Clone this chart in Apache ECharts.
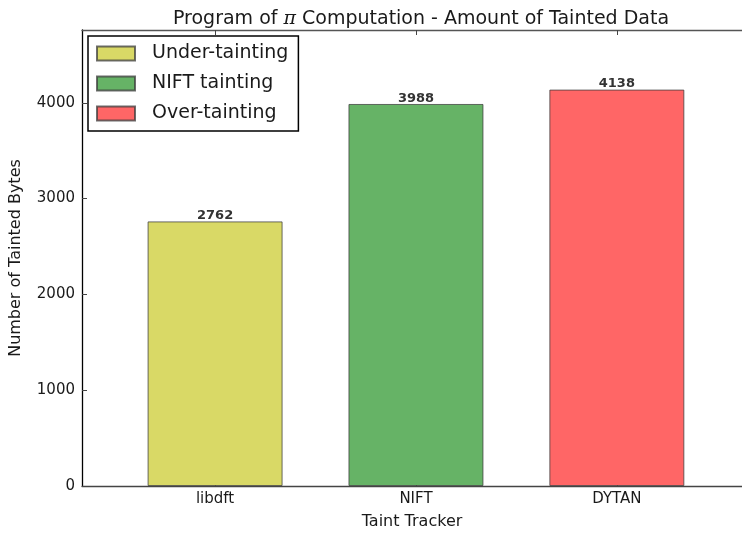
<!DOCTYPE html>
<html><head><meta charset="utf-8">
<script src="https://cdn.jsdelivr.net/npm/echarts@6/dist/echarts.min.js"></script>
<style>html,body{margin:0;padding:0;background:#fff}#c{width:742px;height:535px}</style>
</head><body><div id="c"></div>
<script>
const categories = ['libdft', 'NIFT', 'DYTAN'];
const seriesNames = ['Under-tainting', 'NIFT tainting', 'Over-tainting'];
const values = [2762, 3988, 4138];
const colors = ['#d9d966', '#66b366', '#ff6666'];
const yTicks = [0, 1000, 2000, 3000, 4000];
const xPositions = [0, 1, 2];

const font = 'DejaVu Sans';
const textColor = '#1a1a1a';
const chart = echarts.init(document.getElementById('c'));
const series = seriesNames.map((name, i) => ({
  name: name,
  type: 'bar',
  xAxisIndex: 0,
  barWidth: 135,
  barGap: '-100%',
  data: [[xPositions[i], values[i]]],
  itemStyle: { color: colors[i], borderColor: 'rgba(60,60,60,0.75)', borderWidth: 1 },
  label: { show: true, position: 'top', distance: -1, fontFamily: font, fontWeight: 'bold', fontSize: 13, color: '#333',
           formatter: p => String(p.value[1]) },
  emphasis: { disabled: true }
}));

const xMin = -0.6625, xMax = 2.623;

chart.setOption({
  animation: false,
  title: {
    text: 'Program of {i|π} Computation - Amount of Tainted Data',
    left: 416, textAlign: 'center', top: 5,
    textStyle: { fontFamily: font, fontSize: 19, fontWeight: 'normal', color: textColor,
      rich: { i: { fontFamily: 'DejaVu Serif', fontStyle: 'italic', fontSize: 19, color: textColor } } }
  },
  legend: {
    orient: 'vertical', left: 88, top: 36,
    itemWidth: 38, itemHeight: 14, itemGap: 11,
    padding: [8, 10, 8, 8],
    borderColor: '#000', borderWidth: 1.5,
    icon: 'rect',
    textStyle: { fontFamily: font, fontSize: 19, color: textColor, padding: [0, 0, 0, 12] },
    data: seriesNames
  },
  grid: { left: 80, top: 30, right: 0, bottom: 43, show: false, containLabel: false },
  xAxis: [{
    type: 'value', min: xMin, max: xMax, position: 'bottom',
    name: 'Taint Tracker', nameLocation: 'middle', nameGap: 28,
    nameTextStyle: { fontFamily: font, fontSize: 16, color: textColor },
    axisLine: { show: true, onZero: false, lineStyle: { color: '#444', width: 1.3 } },
    axisTick: { show: true, inside: true, length: 5, customValues: xPositions, lineStyle: { color: '#444' } },
    axisLabel: { customValues: xPositions, margin: 6, fontFamily: font, fontSize: 15, color: textColor,
                 formatter: v => categories[Math.round(v)] },
    splitLine: { show: false }
  }, {
    type: 'value', min: xMin, max: xMax, position: 'top',
    axisLine: { show: true, onZero: false, lineStyle: { color: '#555', width: 1.3 } },
    axisTick: { show: true, inside: true, length: 5, customValues: xPositions, lineStyle: { color: '#444' } },
    axisLabel: { show: false },
    splitLine: { show: false }
  }],
  yAxis: {
    type: 'value', min: 0, max: 4760,
    name: 'Number of Tainted Bytes', nameLocation: 'middle', nameGap: 58,
    nameTextStyle: { fontFamily: font, fontSize: 16, color: textColor },
    axisLine: { show: true, onZero: false, lineStyle: { color: '#000', width: 1.3 } },
    axisTick: { show: true, inside: true, length: 5, customValues: yTicks, lineStyle: { color: '#444' } },
    axisLabel: { customValues: yTicks, margin: 7, fontFamily: font, fontSize: 15, color: textColor,
                 formatter: v => String(v) },
    splitLine: { show: false }
  },
  series: series
});
</script></body></html>
